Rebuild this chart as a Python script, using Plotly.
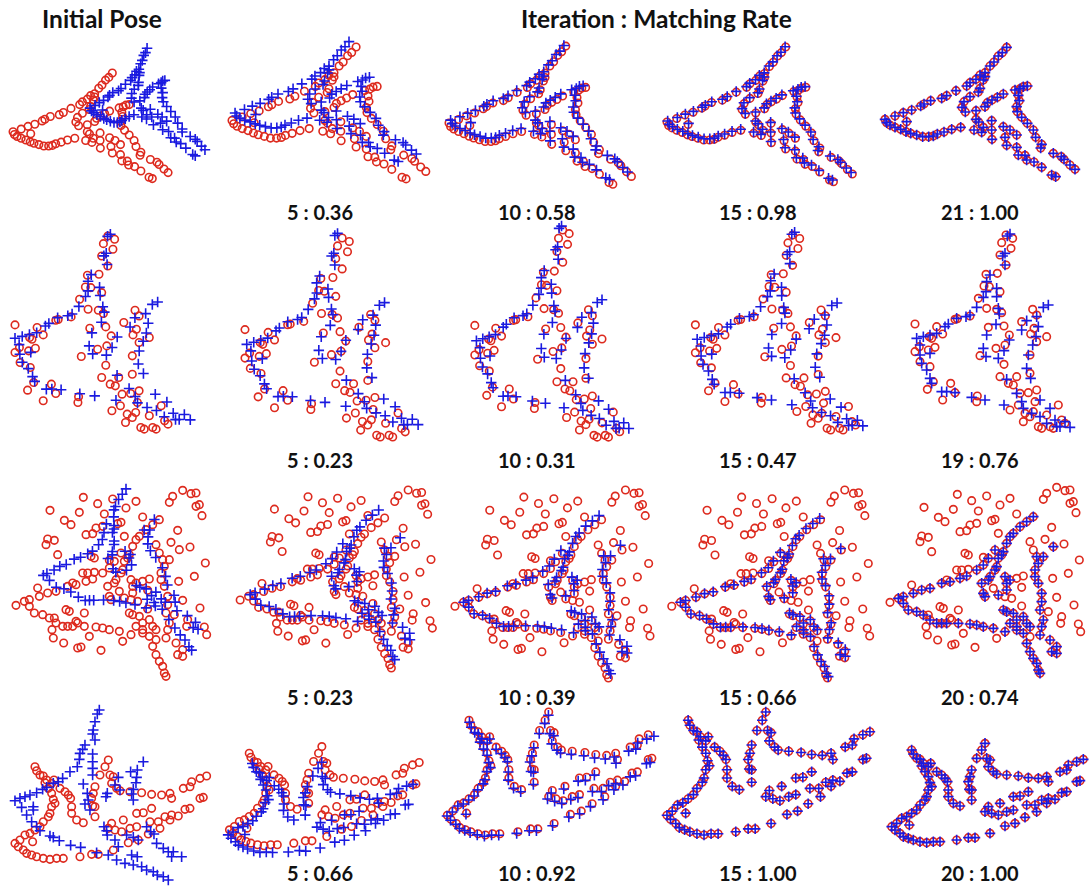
import numpy as np
import plotly.graph_objects as go

# ---------------- point sets ----------------
# Row 1: fish shape (model and scene share the same points)
r1_x = [45, 50, 60, 75, 75, 92, 100, 110, 108, 125, 122, 140, 152, 158, 162, 176, 182, 190, 202, 215, 222, 230, 245, 258, 272,
        290, 300, 318, 330, 345, 360, 372, 385, 397, 410,
        340, 345, 330, 325, 300, 282, 276, 286,
        318, 345, 352, 366, 382, 400,
        435, 450, 460, 472,
        445, 448, 440, 442, 455, 472, 490, 497, 515, 512, 550, 574, 582, 600, 615,
        318, 326, 340, 365, 312, 335, 365, 366,
        400, 420, 440, 405, 410, 440, 445, 465, 470, 492, 515, 545, 557]
r1_y = [268, 278, 285, 258, 292, 298, 248, 275, 305, 240, 310, 315, 228, 320, 222, 320, 212, 318, 312, 205, 306, 197, 298, 182, 292,
        168, 158, 148, 135, 128, 108, 96, 78, 68, 52,
        150, 140, 175, 186, 200, 215, 232, 246,
        242, 230, 218, 210, 202, 192,
        180, 176, 170, 168,
        196, 212, 230, 245, 262, 280, 300, 322, 343, 354, 370, 380, 388, 405, 418,
        268, 276, 292, 272, 300, 307, 300, 328,
        290, 300, 315, 322, 346, 352, 375, 376, 390, 396, 412, 435, 440]

# Row 2: clean scene shape and noisy model points
r2_bx = [390, 382, 375, 368, 375, 330, 320, 318, 310, 350, 350, 290, 270, 258, 230, 205, 195, 170, 150, 130, 110, 120, 120, 150,
         125, 140, 150, 155, 185, 200, 225, 275, 315,
         320, 310, 318, 355, 372, 388, 348, 358, 355,
         505, 490, 470, 440, 425, 475, 468, 458, 445, 440, 452, 380, 410, 425, 430, 455, 372, 480, 510, 480, 500, 525,
         530, 555, 570, 540]
r2_by = [42, 48, 100, 108, 135, 165, 185, 215, 232, 205, 230, 262, 285, 290, 295, 312, 320, 340, 345, 350, 355, 375, 405, 400,
         430, 450, 475, 490, 515, 515, 518, 532, 540,
         345, 385, 410, 415, 392, 360, 313, 282, 265,
         255, 262, 290, 302, 330, 320, 350, 375, 405, 445, 475, 478, 520, 545, 565, 580, 555, 540, 565, 590, 610, 600,
         620, 605, 622, 620]
r2_rx = [378, 398, 365, 393, 360, 378, 352, 318, 328, 312, 360, 295, 320, 350, 365, 270, 232, 225, 105, 170, 188, 148, 155, 118,
         105, 145, 165, 150, 120, 160, 142, 212, 188, 225, 292, 290, 325, 372, 388, 375, 348, 300, 372, 458, 470, 425, 462, 452,
         500, 470, 450, 450, 360, 385, 410, 400, 420, 445, 470, 465, 415, 390, 435, 460, 450, 430, 500, 535, 475, 510, 545, 555,
         485, 520]
r2_ry = [45, 55, 68, 85, 105, 135, 160, 163, 200, 198, 215, 235, 265, 268, 278, 288, 296, 298, 312, 320, 342, 350, 355, 380,
         395, 390, 382, 440, 425, 485, 508, 490, 540, 518, 528, 545, 322, 318, 345, 375, 385, 407, 433, 268, 285, 305, 325, 342,
         350, 365, 405, 460, 470, 490, 470, 495, 520, 518, 510, 545, 555, 570, 580, 575, 590, 605, 585, 555, 620, 620, 600, 610,
         625, 625]

# Row 3: fish shape plus outliers in the model set
r3_bx = [85, 100, 130, 155, 180, 215, 240, 270, 290, 320, 340, 355, 375, 400, 410, 420, 430, 450, 470, 490,
         100, 115, 140, 160, 180, 200, 215, 230, 265, 300, 320, 340, 370, 405,
         335, 340, 345, 355, 360, 375, 380, 385, 395, 405, 410, 410, 420,
         385, 400, 410, 430, 440, 460, 470, 480, 440,
         550, 520, 500, 505, 495, 495, 505, 515, 515, 510, 520, 515, 510, 540, 560, 545, 560,
         420, 440, 460, 470, 480, 490, 500, 505, 510]
r3_by = [385, 380, 370, 360, 355, 340, 335, 325, 318, 300, 285, 265, 240, 245, 220, 200, 190, 170, 155, 140,
         400, 420, 425, 435, 450, 460, 460, 460, 460, 462, 465, 470, 475, 485,
         340, 370, 380, 330, 320, 300, 290, 265, 255, 320, 340, 360, 330,
         375, 420, 425, 430, 450, 440, 460, 470, 470,
         230, 260, 260, 280, 300, 320, 340, 370, 395, 420, 450, 470, 495, 510, 530, 545, 550,
         460, 480, 490, 520, 545, 565, 580, 600, 610]
r3_ox = [60, 162, 262, 305, 350, 390, 420, 250, 325, 205, 225, 300, 320, 270, 290, 365, 375, 440, 530, 520, 560, 585, 600,
         600, 610, 618, 545, 155, 175, 150, 185, 285, 295, 275, 295, 340, 385, 480, 490, 525, 582, 628, 595, 548, 460, 455,
         440, 370, 405, 425, 560, 535, 575, 612, 572, 625, 632, 210, 220, 240, 245, 168, 172, 203, 245, 255, 280, 315, 380,
         480, 455, 265, 230, 260, 125, 175]
r3_oy = [397, 112, 73, 92, 78, 105, 85, 118, 123, 142, 155, 165, 160, 185, 182, 152, 148, 132, 70, 88, 52, 62, 60,
         100, 95, 128, 172, 198, 202, 215, 245, 250, 255, 300, 298, 262, 190, 215, 240, 208, 222, 270, 310, 325, 318, 352,
         325, 355, 380, 385, 382, 425, 440, 405, 460, 462, 485, 410, 415, 445, 450, 470, 495, 510, 525, 522, 490, 532, 505,
         500, 408, 420, 330, 300, 345, 435]

# Row 4: bird-like shape (model and scene share the same points)
r4_x = [125, 130, 140, 150, 160, 155, 175, 182, 165, 175, 180, 185, 175, 170, 165, 150, 140, 125, 110, 95, 80, 65, 75, 90,
        100, 115, 130, 150, 170, 190, 210, 260, 295, 315, 360, 118,
        200, 215, 225, 232, 235, 235, 250, 270,
        305, 300, 295, 298, 305, 305,
        345, 335, 320, 350, 360, 355, 370, 380, 410, 445, 475, 505, 530, 535, 570, 590, 595, 620, 640,
        355, 345, 365, 385, 390, 410, 430, 450, 430, 475, 470, 495, 500, 515, 530, 535, 555, 575, 590, 620, 630,
        405, 435, 465]
r4_y = [150, 162, 175, 178, 190, 198, 200, 190, 215, 230, 248, 260, 270, 290, 300, 315, 330, 340, 350, 355, 370, 380, 390, 400,
        410, 415, 420, 425, 428, 425, 425, 420, 413, 413, 400, 375,
        215, 225, 235, 245, 270, 290, 310, 318,
        210, 230, 245, 268, 270, 300,
        130, 150, 175, 175, 180, 200, 215, 222, 225, 228, 233, 235, 230, 245, 215, 210, 195, 185, 178,
        320, 335, 340, 345, 310, 335, 290, 288, 330, 275, 315, 315, 335, 300, 310, 295, 298, 278, 275, 245, 242,
        378, 370, 352]
# Row 4 scene points at the initial pose
r4_init_x = [318, 312, 305, 300, 298, 305, 275, 268, 260, 258, 252, 230, 208, 195, 180, 160, 148, 130, 110, 95, 80, 65,
             298, 298, 298, 298, 85, 120, 120, 100, 115, 130, 140, 170, 180, 198, 232, 262, 310,
             270, 282, 285, 275, 290, 338, 342, 450, 432, 412, 430, 428, 420, 415, 420, 375, 365, 380,
             332, 340, 342, 365, 375, 345, 370, 395, 420, 445, 460, 480, 492, 510, 525,
             400, 420, 435, 460, 472, 482, 490, 510, 525, 540, 535, 565, 415, 432]
r4_init_y = [-20, -8, 15, 40, 52, 70, 85, 98, 110, 128, 150, 165, 185, 195, 200, 212, 218, 228, 235, 240, 245, 252,
             112, 135, 155, 175, 272, 270, 280, 295, 315, 330, 342, 358, 362, 372, 386, 392, 408,
             202, 230, 250, 262, 280, 240, 230, 135, 160, 165, 182, 198, 218, 232, 250, 182, 205, 220,
             330, 342, 355, 370, 390, 415, 430, 440, 445, 450, 460, 465, 475, 480, 490,
             355, 362, 370, 330, 345, 352, 380, 395, 405, 405, 420, 420, 415, 420]

rows = [
    dict(red=(r1_x, r1_y), blue=(r1_x, r1_y), anchor=(45, 268)),
    dict(red=(r2_rx, r2_ry), blue=(r2_bx, r2_by), anchor=(110, 355)),
    dict(red=(r3_bx + r3_ox, r3_by + r3_oy), blue=(r3_bx, r3_by), anchor=(85, 385)),
    dict(red=(r4_x, r4_y), blue=(r4_x, r4_y), anchor=(65, 380)),
]

# scene pose per panel: (a, b, c, d, tx, ty) applied about the row anchor; None = listed points
poses = [
    [(0.69, 0.195, 0.0, 1.02, 283, -87), (0.93, 0.02, -0.03, 0.92, 9, -22), (0.97, 0, 0, 0.97, 5, -8),
     (0.99, 0, 0, 0.99, 2, -3), (1, 0, 0, 1, 0, 0)],
    [(1.08, 0.07, -0.03, 0.97, -5, -3), (1.0, 0.08, -0.06, 0.98, 0, 0), (1.0, 0.05, -0.04, 0.99, 0, 0),
     (1.0, 0.02, -0.02, 1.0, 0, 0), (1, 0, 0, 1, 0, 0)],
    [(0.844, 0.383, -0.017, 1.03, 57, -78), (0.98, 0.06, -0.05, 1.0, 5, -5), (1, 0.03, -0.03, 1, 0, 0),
     (1, 0.01, -0.01, 1, 0, 0), (1, 0, 0, 1, 0, 0)],
    [None, (0.95, -0.07, 0.07, 0.95, -4, 15), (0.99, -0.012, 0.012, 0.99, -1, 2), (1, 0, 0, 1, 0, 0),
     (1, 0, 0, 1, 0, 0)],
]

# panel views: pixel origin and pixels per data unit (ox, oy, sx, sy)
views = [
    [(0.8, 58.9, 0.272, 0.272), (216.7, 29.3, 0.34, 0.34), (434.6, 27.6, 0.32, 0.356),
     (652.4, 29, 0.325, 0.347), (870, 30, 1 / 3, 1 / 3)],
    [(-20.7, 221, 0.34, 0.333), (207.6, 222.6, 0.356, 0.343), (441, 214, 0.322, 0.357),
     (658, 220, 0.356, 0.336), (880, 220, 1 / 3, 1 / 3)],
    [(-4, 473, 1 / 3, 1 / 3), (220, 473.4, 0.336, 0.319), (434.5, 472.5, 0.341, 0.337),
     (651, 472.5, 0.346, 0.337), (870, 470, 1 / 3, 1 / 3)],
    [(-6.7, 716.7, 1 / 3, 1 / 3), (208, 703.3, 0.33, 0.333), (423.8, 658.3, 0.362, 0.413),
     (644, 658.3, 0.353, 0.413), (870, 700, 1 / 3, 1 / 3)],
]

labels = [
    ["", "5 : 0.36", "10 : 0.58", "15 : 0.98", "21 : 1.00"],
    ["", "5 : 0.23", "10 : 0.31", "15 : 0.47", "19 : 0.76"],
    ["", "5 : 0.23", "10 : 0.39", "15 : 0.66", "20 : 0.74"],
    ["", "5 : 0.66", "10 : 0.92", "15 : 1.00", "20 : 1.00"],
]

W, H = 1090, 888
col_px = [(0, 218), (218, 436), (436, 654), (654, 872), (872, 1090)]
row_px = [(30, 200), (220, 450), (470, 688), (700, 888)]
label_y = [212, 460, 697, 873]
label_x = [110, 320, 537, 758, 980]

RED = "#dd2a1e"
BLUE = "#1a1ae0"


def apply_pose(pts, p, anchor):
    x = np.asarray(pts[0], float) - anchor[0]
    y = np.asarray(pts[1], float) - anchor[1]
    a, b, c, d, tx, ty = p
    return a * x + b * y + anchor[0] + tx, c * x + d * y + anchor[1] + ty


fig = go.Figure()
layout = {}
k = 0
for r, row in enumerate(rows):
    for c in range(5):
        k += 1
        xa = "x" if k == 1 else f"x{k}"
        ya = "y" if k == 1 else f"y{k}"
        ox, oy, sx, sy = views[r][c]
        cx0, cx1 = col_px[c]
        cy0, cy1 = row_px[r]
        xr = [(cx0 - ox) / sx, (cx1 - ox) / sx]
        yr = [(cy1 - oy) / sy, (cy0 - oy) / sy]
        key = "" if k == 1 else str(k)
        layout["xaxis" + key] = dict(domain=[cx0 / W, cx1 / W], range=xr, visible=False, fixedrange=True,
                                     anchor=ya)
        layout["yaxis" + key] = dict(domain=[1 - cy1 / H, 1 - cy0 / H], range=yr, visible=False, fixedrange=True,
                                     anchor=xa)
        fig.add_trace(go.Scatter(
            x=row["red"][0], y=row["red"][1], mode="markers", xaxis=xa, yaxis=ya, cliponaxis=False,
            marker=dict(symbol="circle-open", size=7.5, color=RED, line=dict(width=1.6, color=RED)),
            hoverinfo="skip", showlegend=False))
        p = poses[r][c]
        if p is None:
            bx, by = r4_init_x, r4_init_y
        else:
            bx, by = apply_pose(row["blue"], p, row["anchor"])
        fig.add_trace(go.Scatter(
            x=bx, y=by, mode="markers", xaxis=xa, yaxis=ya, cliponaxis=False,
            marker=dict(symbol="cross-thin", size=7.5, color=BLUE, line=dict(width=1.6, color=BLUE)),
            hoverinfo="skip", showlegend=False))

annotations = []
for r in range(4):
    for c in range(1, 5):
        annotations.append(dict(text=labels[r][c], x=label_x[c] / W, y=1 - label_y[r] / H, xref="paper",
                                yref="paper", showarrow=False, xanchor="center", yanchor="middle",
                                font=dict(family="Lato", size=20, color="#111111", weight="bold")))
annotations.append(dict(text="Initial Pose", x=102 / W, y=1 - 18 / H, xref="paper", yref="paper",
                        showarrow=False, xanchor="center", yanchor="middle",
                        font=dict(family="Lato", size=24.5, color="#111111", weight="bold")))
annotations.append(dict(text="Iteration : Matching Rate", x=656 / W, y=1 - 18 / H, xref="paper", yref="paper",
                        showarrow=False, xanchor="center", yanchor="middle",
                        font=dict(family="Lato", size=24.5, color="#111111", weight="bold")))

fig.update_layout(width=W, height=H, margin=dict(l=0, r=0, t=0, b=0), paper_bgcolor="white",
                  plot_bgcolor="white", annotations=annotations, showlegend=False, **layout)
fig.write_html("out.html")
